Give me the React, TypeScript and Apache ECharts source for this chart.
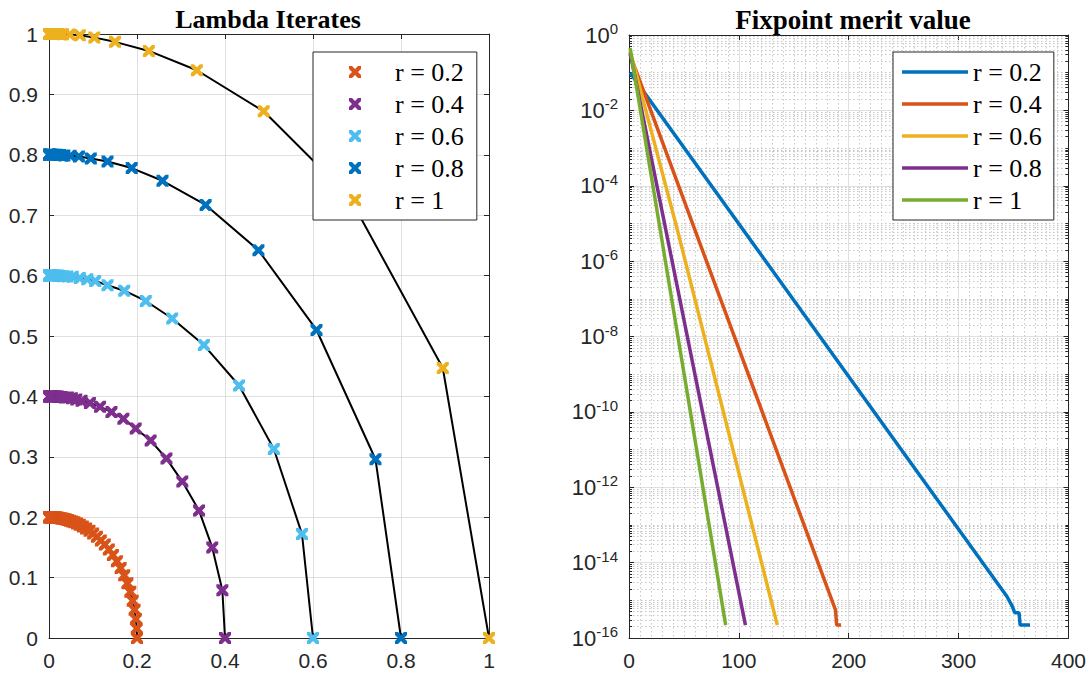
import React, { useEffect, useRef } from 'react';
import * as echarts from 'echarts';

// ---------- data ----------
const rLabels = ['r = 0.2', 'r = 0.4', 'r = 0.6', 'r = 0.8', 'r = 1'];
const iterColors = ['#D95319', '#7E2F8E', '#4DBEEE', '#0072BD', '#EDB120'];
const meritColors = ['#0072BD', '#D95319', '#EDB120', '#7E2F8E', '#77AC30'];

const lambdaR02: [number, number][] = [
  [0.2, 0], [0.1994, 0.0157], [0.1975, 0.0313], [0.1945, 0.0467], [0.1902, 0.0618], [0.1848, 0.0765],
  [0.1782, 0.0908], [0.1709, 0.1039], [0.1628, 0.1161], [0.1543, 0.1272], [0.1453, 0.1374], [0.1361, 0.1465],
  [0.1269, 0.1546], [0.1178, 0.1616], [0.1089, 0.1677], [0.1003, 0.173], [0.092, 0.1776], [0.0842, 0.1814],
  [0.0769, 0.1846], [0.07, 0.1873], [0.0638, 0.1896], [0.0578, 0.1915], [0.0524, 0.193], [0.0474, 0.1943],
  [0.0429, 0.1953], [0.0388, 0.1962], [0.0351, 0.1969], [0.0316, 0.1975], [0.0285, 0.198], [0.0258, 0.1983],
  [0.023, 0.1987], [0.0206, 0.1989], [0.0185, 0.1991], [0.0167, 0.1993], [0.015, 0.1994], [0.0133, 0.1996],
  [0.0119, 0.1996], [0.0105, 0.1997], [0.0094, 0.1998], [0.0084, 0.1998], [0.0073, 0.1999], [0.0066, 0.1999],
  [0.0059, 0.1999], [0.0053, 0.2], [0.0047, 0.2], [0.0042, 0.2], [0.0037, 0.2], [0.0032, 0.2], [0.0027, 0.2],
  [0.0022, 0.2], [0.0017, 0.2], [0.0012, 0.2], [0.0008, 0.2], [0.0004, 0.2], [0, 0.2],
];
const lambdaR04: [number, number][] = [
  [0.4, 0], [0.394, 0.079], [0.371, 0.15], [0.341, 0.211], [0.303, 0.259], [0.267, 0.297], [0.231, 0.327],
  [0.197, 0.347], [0.169, 0.363], [0.142, 0.374], [0.116, 0.383], [0.093, 0.389], [0.074, 0.393], [0.062, 0.395],
  [0.052, 0.397], [0.043, 0.398], [0.036, 0.398], [0.029, 0.399], [0.024, 0.399], [0.02, 0.4], [0.017, 0.4],
  [0.014, 0.4], [0.0117, 0.4], [0.0097, 0.4], [0.008, 0.4], [0.0067, 0.4], [0.0056, 0.4], [0.0046, 0.4],
  [0.0038, 0.4], [0.0032, 0.4], [0.0027, 0.4], [0.002, 0.4], [0.0014, 0.4], [0.0008, 0.4], [0.0003, 0.4], [0, 0.4],
];
const lambdaR06: [number, number][] = [
  [0.6, 0], [0.575, 0.172], [0.511, 0.313], [0.432, 0.418], [0.352, 0.485], [0.28, 0.529], [0.22, 0.558],
  [0.171, 0.575], [0.133, 0.584], [0.105, 0.591], [0.087, 0.594], [0.07, 0.596], [0.054, 0.598], [0.042, 0.5985],
  [0.032, 0.599], [0.025, 0.5995], [0.02, 0.6], [0.015, 0.6], [0.0115, 0.6], [0.009, 0.6], [0.007, 0.6],
  [0.0054, 0.6], [0.0042, 0.6], [0.0032, 0.6], [0.0025, 0.6], [0.0019, 0.6], [0.0014, 0.6], [0.001, 0.6],
  [0.0006, 0.6], [0.0003, 0.6], [0, 0.6],
];
const lambdaR08: [number, number][] = [
  [0.8, 0], [0.742, 0.296], [0.608, 0.51], [0.476, 0.642], [0.356, 0.717], [0.258, 0.757], [0.188, 0.778],
  [0.133, 0.789], [0.095, 0.794], [0.068, 0.797], [0.049, 0.7985], [0.035, 0.799], [0.025, 0.7996], [0.018, 0.8],
  [0.013, 0.8], [0.0093, 0.8], [0.0067, 0.8], [0.0048, 0.8], [0.0035, 0.8], [0.0025, 0.8], [0.0018, 0.8],
  [0.0013, 0.8], [0.0009, 0.8], [0.0006, 0.8], [0.0004, 0.8], [0, 0.8],
];
const lambdaR1: [number, number][] = [
  [1, 0], [0.895, 0.447], [0.682, 0.731], [0.488, 0.872], [0.336, 0.94], [0.227, 0.972], [0.15, 0.987],
  [0.103, 0.994], [0.07, 0.998], [0.047, 0.999], [0.032, 0.9995], [0.021, 1], [0.014, 1], [0.0095, 1],
  [0.0064, 1], [0.0043, 1], [0.0029, 1], [0.002, 1], [0.0013, 1], [0.0009, 1], [0.0006, 1], [0.0004, 1], [0, 1],
];

// merit value vertices: [iteration, merit]
const meritR02: [number, number][] = [
  [1, 0.1], [344, 1.26e-15], [349, 6.8e-16], [351, 4.7e-16], [355, 4.7e-16], [356, 2.2e-16], [365, 2.2e-16],
];
const meritR04: [number, number][] = [[1, 0.3], [188, 5.5e-16], [189, 2.2e-16], [193, 2.2e-16]];
const meritR06: [number, number][] = [[1, 0.38], [44, 6.8e-6], [135, 2.2e-16]];
const meritR08: [number, number][] = [[1, 0.34], [106, 2.2e-16]];
const meritR1: [number, number][] = [[1, 0.45], [88, 2.2e-16]];

const xTicksLeft = [0, 0.2, 0.4, 0.6, 0.8, 1];
const yTicksLeft = [0, 0.1, 0.2, 0.3, 0.4, 0.5, 0.6, 0.7, 0.8, 0.9, 1];
const xTicksRight = [0, 100, 200, 300, 400];
const yExpRight = [-16, 0];

const lambdaSets = [lambdaR02, lambdaR04, lambdaR06, lambdaR08, lambdaR1];
const meritSets = [meritR02, meritR04, meritR06, meritR08, meritR1];

const X_PATH =
  'path://M0,0 L2.5,0 L5,2.5 L7.5,0 L10,0 L10,2.5 L7.5,5 L10,7.5 L10,10 L7.5,10 L5,7.5 L2.5,10 L0,10 L0,7.5 L2.5,5 L0,2.5 Z';
const BAR_PATH = 'path://M0,0 L66,0 L66,3.4 L0,3.4 Z';

const SANS = 'Liberation Sans, Arial, Helvetica, sans-serif';
const SERIF = 'Liberation Serif, Times New Roman, serif';
const AX = '#262626';
const GRID = '#dfdfdf';
const MINOR = '#c8c8c8';

export default function App() {
  const ref = useRef<HTMLDivElement>(null);

  useEffect(() => {
    if (!ref.current) return;
    const chart = echarts.init(ref.current, undefined, { renderer: 'svg' });

    const xMaxR = xTicksRight[xTicksRight.length - 1];

    // minor log grid levels (k * 10^n), excluding major ticks (even exponents)
    const minorLevels: number[] = [];
    for (let n = yExpRight[0]; n < yExpRight[1]; n++) {
      for (let k = 1; k <= 9; k++) {
        if (k === 1 && n % 2 === 0) continue;
        minorLevels.push(k * Math.pow(10, n));
      }
    }
    const minorGridData = minorLevels.map((v) => ({ coords: [[0, v], [xMaxR, v]] }));
    const minorTickData: any[] = [];
    minorLevels.forEach((v) => {
      minorTickData.push({ coords: [[0, v], [2.8, v]] });
      minorTickData.push({ coords: [[xMaxR - 2.8, v], [xMaxR, v]] });
    });

    const baseAxis = {
      axisLine: { show: true, onZero: false, lineStyle: { color: AX, width: 1 } },
      axisTick: { show: true, inside: true, length: 5, lineStyle: { color: AX } },
      axisLabel: { color: AX, fontFamily: SANS, fontSize: 21 },
    };
    const mirror = {
      axisLine: { show: true, onZero: false, lineStyle: { color: AX, width: 1 } },
      axisTick: { show: true, inside: true, length: 5, lineStyle: { color: AX } },
      axisLabel: { show: false },
      splitLine: { show: false },
    };

    const series: any[] = [];
    lambdaSets.forEach((d, i) => {
      series.push({
        type: 'line',
        name: 'path ' + rLabels[i],
        xAxisIndex: 0,
        yAxisIndex: 0,
        data: d,
        showSymbol: false,
        symbol: 'none',
        lineStyle: { color: '#000', width: 2 },
        z: 2,
        silent: true,
      });
    });
    lambdaSets.forEach((d, i) => {
      series.push({
        type: 'scatter',
        name: rLabels[i],
        xAxisIndex: 0,
        yAxisIndex: 0,
        data: d,
        symbol: X_PATH,
        symbolSize: 12,
        itemStyle: { color: iterColors[i], opacity: 1 },
        z: 3,
        clip: false,
      });
    });
    series.push({
      type: 'lines',
      coordinateSystem: 'cartesian2d',
      xAxisIndex: 2,
      yAxisIndex: 2,
      data: minorGridData,
      silent: true,
      lineStyle: { color: MINOR, width: 1, type: [1.5, 2.5], opacity: 1 },
      z: 1,
    });
    series.push({
      type: 'lines',
      coordinateSystem: 'cartesian2d',
      xAxisIndex: 2,
      yAxisIndex: 2,
      data: minorTickData,
      silent: true,
      lineStyle: { color: AX, width: 1, opacity: 1 },
      z: 1,
    });
    meritSets.forEach((d, i) => {
      series.push({
        type: 'line',
        name: 'm' + i,
        xAxisIndex: 2,
        yAxisIndex: 2,
        data: d,
        showSymbol: false,
        symbol: 'none',
        lineStyle: { color: meritColors[i], width: 3.5 },
        itemStyle: { color: meritColors[i] },
        z: 3,
      });
    });

    const legendBase = {
      orient: 'vertical',
      top: 52,
      itemGap: 6,
      borderColor: AX,
      borderWidth: 1,
      borderRadius: 0,
      backgroundColor: '#ffffff',
      selectedMode: false,
    };

    const option: any = {
      animation: false,
      backgroundColor: '#ffffff',
      title: [
        {
          text: 'Lambda Iterates',
          left: 263,
          top: 1,
          textAlign: 'center',
          textStyle: { fontFamily: SERIF, fontWeight: 'bold', fontSize: 26, color: '#000' },
        },
        {
          text: 'Fixpoint merit value',
          left: 848,
          top: 1,
          textAlign: 'center',
          textStyle: { fontFamily: SERIF, fontWeight: 'bold', fontSize: 27, color: '#000' },
        },
      ],
      legend: [
        {
          ...legendBase,
          left: 313,
          padding: [7, 13, 7, 36],
          itemWidth: 12,
          itemHeight: 12,
          data: rLabels.map((n) => ({ name: n, icon: X_PATH })),
          formatter: (name: string) => '{p|}{t|' + name + '}',
          textStyle: {
            rich: {
              p: { width: 29, lineHeight: 26 },
              t: { fontFamily: SERIF, fontSize: 26, color: '#000', lineHeight: 26 },
            },
          },
        },
        {
          ...legendBase,
          left: 893,
          padding: [7, 12, 7, 9],
          itemWidth: 66,
          itemHeight: 14,
          data: rLabels.map((_, i) => ({ name: 'm' + i, icon: BAR_PATH })),
          formatter: (name: string) => rLabels[Number(name.slice(1))],
          textStyle: { fontFamily: SERIF, fontSize: 26, color: '#000', lineHeight: 26 },
        },
      ],
      grid: [
        { left: 49, top: 34, width: 440, height: 604 },
        { left: 629, top: 35, width: 440, height: 603 },
      ],
      xAxis: [
        {
          ...baseAxis,
          type: 'value',
          gridIndex: 0,
          position: 'bottom',
          min: xTicksLeft[0],
          max: xTicksLeft[xTicksLeft.length - 1],
          interval: 0.2,
          axisLabel: { ...baseAxis.axisLabel, margin: 12 },
          splitLine: { show: true, lineStyle: { color: GRID, width: 1 } },
        },
        { ...mirror, type: 'value', gridIndex: 0, position: 'top', min: 0, max: 1, interval: 0.2 },
        {
          ...baseAxis,
          type: 'value',
          gridIndex: 1,
          position: 'bottom',
          min: xTicksRight[0],
          max: xMaxR,
          interval: 100,
          axisLabel: { ...baseAxis.axisLabel, margin: 12 },
          splitLine: { show: true, lineStyle: { color: GRID, width: 1 } },
          minorTick: { show: false, splitNumber: 10 },
          minorSplitLine: { show: true, lineStyle: { color: MINOR, width: 1, type: [1.5, 2.5] } },
        },
        { ...mirror, type: 'value', gridIndex: 1, position: 'top', min: 0, max: xMaxR, interval: 100 },
      ],
      yAxis: [
        {
          ...baseAxis,
          type: 'value',
          gridIndex: 0,
          position: 'left',
          min: yTicksLeft[0],
          max: yTicksLeft[yTicksLeft.length - 1],
          interval: 0.1,
          axisLabel: { ...baseAxis.axisLabel, margin: 11 },
          splitLine: { show: true, lineStyle: { color: GRID, width: 1 } },
        },
        { ...mirror, type: 'value', gridIndex: 0, position: 'right', min: 0, max: 1, interval: 0.1 },
        {
          ...baseAxis,
          type: 'log',
          logBase: 10,
          gridIndex: 1,
          position: 'left',
          min: Math.pow(10, yExpRight[0]),
          max: Math.pow(10, yExpRight[1]),
          interval: 2,
          splitNumber: 8,
          axisLabel: {
            ...baseAxis.axisLabel,
            margin: 11,
            formatter: (v: number) => '{b|10}{s|' + Math.round(Math.log10(v)) + '}',
            rich: {
              b: { fontFamily: SANS, fontSize: 22, color: AX, lineHeight: 22, verticalAlign: 'bottom' },
              s: {
                fontFamily: SANS,
                fontSize: 15,
                color: AX,
                lineHeight: 15,
                verticalAlign: 'bottom',
                padding: [0, 0, 10, 0],
              },
            },
          },
          splitLine: { show: true, lineStyle: { color: GRID, width: 1 } },
        },
        {
          ...mirror,
          type: 'log',
          logBase: 10,
          gridIndex: 1,
          position: 'right',
          min: Math.pow(10, yExpRight[0]),
          max: Math.pow(10, yExpRight[1]),
          interval: 2,
          splitNumber: 8,
        },
      ],
      series,
    };

    chart.setOption(option);
    return () => chart.dispose();
  }, []);

  return (
    <div
      ref={ref}
      style={{ position: 'fixed', left: 0, top: 0, width: 1089, height: 677, background: '#fff' }}
    />
  );
}
